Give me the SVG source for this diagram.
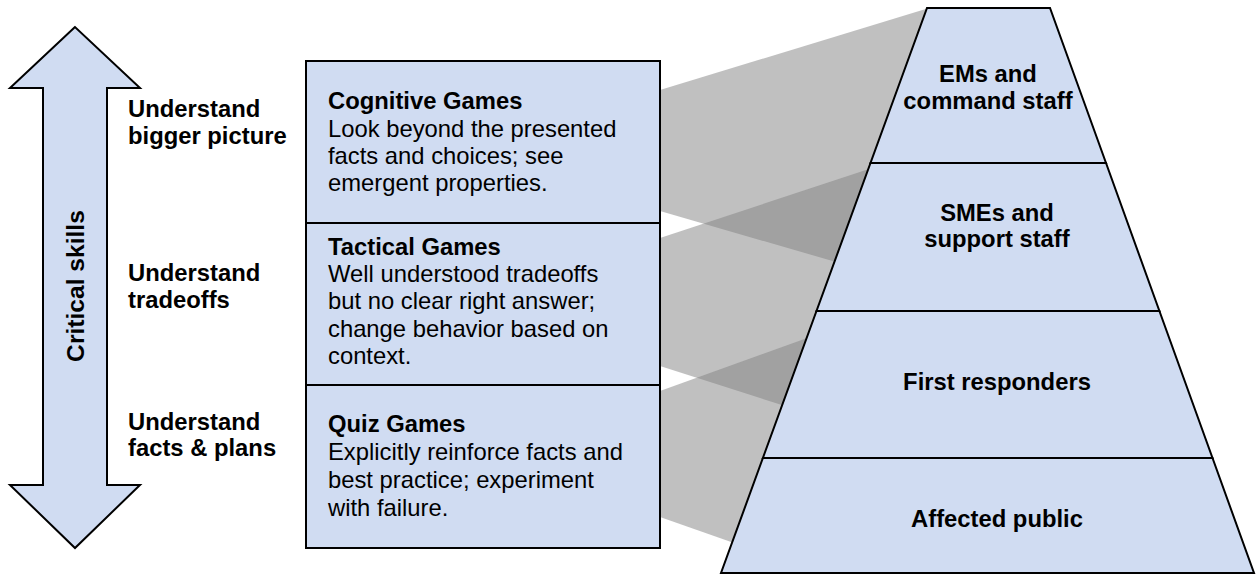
<svg xmlns="http://www.w3.org/2000/svg" width="1258" height="579" viewBox="0 0 1258 579">
<style>
.shape{fill:#D0DCF2;stroke:#000;stroke-width:2;stroke-linejoin:miter}
.band{fill:#828282;fill-opacity:0.5;stroke:none}
text{font-family:"Liberation Sans",Arial,sans-serif;font-size:23.8px;fill:#000}
.b{font-weight:bold}
.c{text-anchor:middle}
.v{font-size:24.6px}
</style>
<rect width="1258" height="579" fill="#fff"/>
<g id="connectors">
<polygon class="band" points="660,90 929,8 836,262 660,211"/>
<polygon class="band" points="660,238 872,168 785,406 660,366"/>
<polygon class="band" points="660,391 810,337 734,543 660,517"/>
</g>
<g id="arrow">
<polygon class="shape" points="75,27 10,88 43,88 43,485 10,485 75,548 140,485 107,485 107,88 140,88"/>
<text class="b c v" transform="translate(83.5,286) rotate(-90)">Critical skills</text>
</g>
<g id="label-bigger-picture">
<text class="b" x="128" y="117">Understand</text>
<text class="b" x="128" y="143.5">bigger picture</text>
</g>
<g id="label-tradeoffs">
<text class="b" x="128" y="281">Understand</text>
<text class="b" x="128" y="307.5">tradeoffs</text>
</g>
<g id="label-facts">
<text class="b" x="128" y="429.5">Understand</text>
<text class="b" x="128" y="456">facts &amp; plans</text>
</g>
<g id="cognitive-games">
<rect class="shape" x="306" y="61" width="354" height="162"/>
<text x="328" y="108.5"><tspan class="b">Cognitive Games</tspan><tspan x="328" dy="28">Look beyond the presented</tspan><tspan x="328" dy="27.3">facts and choices; see</tspan><tspan x="328" dy="27.3">emergent properties.</tspan></text>
</g>
<g id="tactical-games">
<rect class="shape" x="306" y="223" width="354" height="162"/>
<text x="328" y="255"><tspan class="b">Tactical Games</tspan><tspan x="328" dy="27">Well understood tradeoffs</tspan><tspan x="328" dy="27.3">but no clear right answer;</tspan><tspan x="328" dy="27.3">change behavior based on</tspan><tspan x="328" dy="27.3">context.</tspan></text>
</g>
<g id="quiz-games">
<rect class="shape" x="306" y="385" width="354" height="163"/>
<text x="328" y="432"><tspan class="b">Quiz Games</tspan><tspan x="328" dy="28">Explicitly reinforce facts and</tspan><tspan x="328" dy="28">best practice; experiment</tspan><tspan x="328" dy="28">with failure.</tspan></text>
</g>
<g id="pyramid-ems">
<polygon class="shape" points="927,8 1050,8 1106,163 870.5,163"/>
<text class="b c" x="988" y="81.5">EMs and</text>
<text class="b c" x="988" y="109">command staff</text>
</g>
<g id="pyramid-smes">
<polygon class="shape" points="870.5,163 1106,163 1159.4,311 816.5,311"/>
<text class="b c" x="997" y="221">SMEs and</text>
<text class="b c" x="997" y="247">support staff</text>
</g>
<g id="pyramid-first-responders">
<polygon class="shape" points="816.5,311 1159.4,311 1212.5,458 762.9,458"/>
<text class="b c" x="997" y="390">First responders</text>
</g>
<g id="pyramid-public">
<polygon class="shape" points="762.9,458 1212.5,458 1254,573 721,573"/>
<text class="b c" x="997" y="527">Affected public</text>
</g>
</svg>
